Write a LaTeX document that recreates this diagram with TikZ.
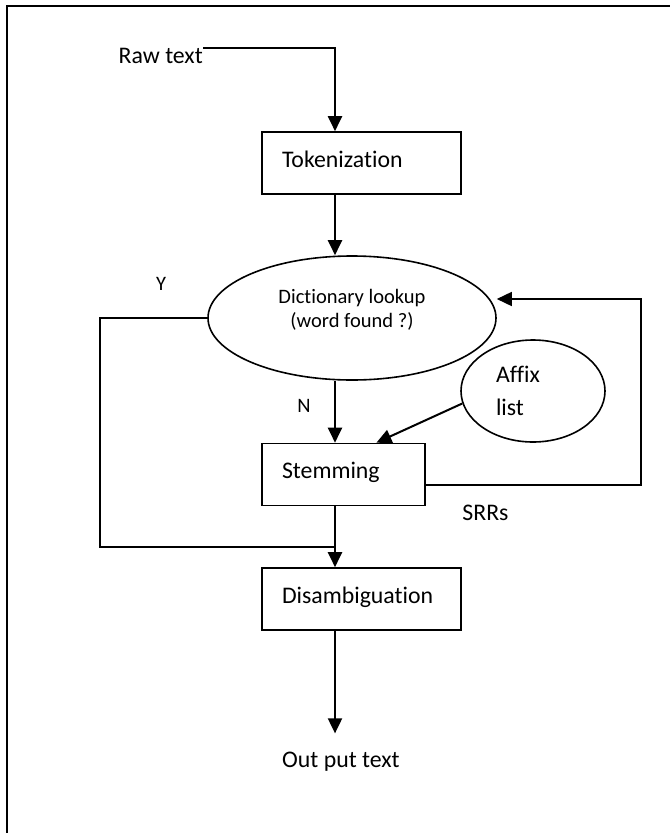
\documentclass[tikz,border=0pt]{standalone}
\usepackage{fontspec}
\setmainfont{Carlito}[Ligatures=NoCommon]
\usetikzlibrary{shapes.geometric,arrows.meta,calc}
\begin{document}
\begin{tikzpicture}[x=1pt,y=1pt,
  box/.style={draw, line width=1.6pt, rectangle, inner xsep=20pt, inner ysep=0pt, align=left,
    minimum height=62pt, text height=15pt, text depth=7pt, font=\fontsize{23.8}{28}\selectfont},
  oval/.style={draw, line width=1.6pt, ellipse, inner sep=0pt},
  lbl/.style={inner sep=0pt, font=\fontsize{23.8}{28}\selectfont},
  small/.style={inner sep=0pt, font=\fontsize{20.5}{24}\selectfont},
  tip/.style={-{Triangle[length=15pt,width=14pt]}},
  flow/.style={line width=2pt, tip},
  wire/.style={line width=1.6pt}
]
\useasboundingbox (0,0) rectangle (670,-833);
% frame (only top and left edges visible)
\draw[line width=2pt] (6.5,-833) -- (6.5,-5.5) -- (670,-5.5);

% nodes
\node[lbl, anchor=base east] (raw) at (203,-63) {Raw text};
\node[box, text width=159pt] (tok) at (361.5,-163) {Tokenization};
\node[oval, minimum width=288pt, minimum height=124pt,
  label={[small, align=center, yshift=8pt]center:{Dictionary lookup\\(word found ?)}}] (dict) at (352,-318) {};
\node[oval, minimum width=144pt, minimum height=102pt, text width=74pt, align=left,
  font=\fontsize{23.8}{33}\selectfont] (affix) at (533,-391) {Affix\\list};
\node[box, text width=123pt] (stem) at (343.5,-474.5) {Stemming};
\node[box, text width=159pt] (dis) at (361.5,-599) {Disambiguation};
\node[lbl, anchor=base west] (out) at (282,-767) {Out put text};
\node[small] (y) at (161,-284) {Y};
\node[small] (n) at (304,-406) {N};
\node[lbl] (srr) at (485.5,-513) {SRRs};

% helper coordinates
\coordinate (ax) at (335,0);
\coordinate (c1) at (ax |- raw.north east);
\coordinate (ybend) at (100,-547);
\coordinate (join) at (ax |- ybend);
\coordinate (lp) at (641,-299);

% connectors
\draw[flow] (raw.north east) -- (c1) -- (c1 |- tok.north);
\draw[flow] (ax |- tok.south) -- (ax |- dict.north);
\draw[flow] (ax |- dict.south) -- (ax |- stem.north);
\draw[flow] (affix.190) -- ($(stem.north east)!0.6!(stem.north)$);
\draw[wire, tip] ([yshift=-10.5pt]stem.east) -| (lp) -- (lp -| dict.east);
\draw[wire] (dict.west) -| (ybend) -- (join);
\draw[flow] (ax |- stem.south) -- (ax |- dis.north);
\draw[flow, shorten >=18pt] (ax |- dis.south) -- (ax |- out.north);
\end{tikzpicture}
\end{document}
